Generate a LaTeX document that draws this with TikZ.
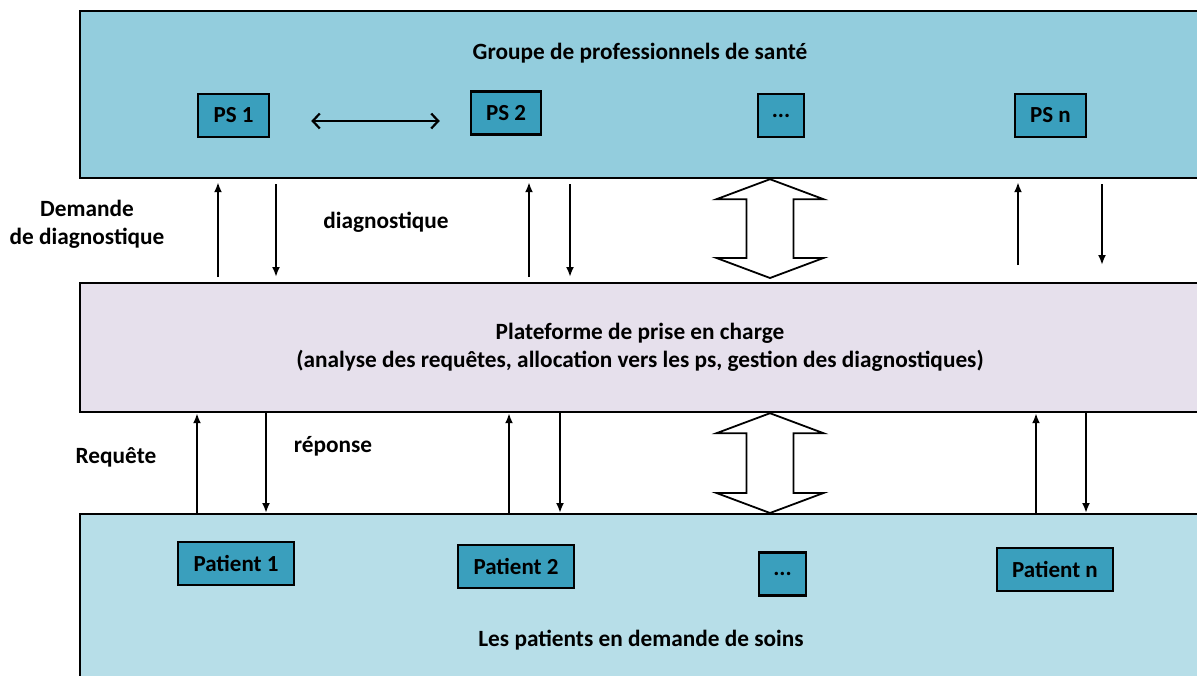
\documentclass[tikz,border=0pt]{standalone}
\usepackage{fontspec}
\setmainfont{Carlito}
\usetikzlibrary{arrows.meta,positioning}
\definecolor{bandtop}{HTML}{93CDDD}
\definecolor{bandmid}{HTML}{E6E0EC}
\definecolor{bandbot}{HTML}{B7DEE8}
\definecolor{unitfill}{HTML}{3A9FBD}
\tikzset{
  band/.style={draw,line width=2.2pt,anchor=north west,inner sep=0pt,minimum width=1150pt},
  unit/.style={draw,line width=2.5pt,fill=unitfill,minimum height=43pt,inner sep=0pt,font=\bfseries\fontsize{23}{27}\selectfont},
  lbl/.style={font=\bfseries\fontsize{23.3}{28}\selectfont,align=center,inner sep=0pt},
  flow/.style={-{Latex[length=10pt,width=8pt]},line width=2.2pt},
  swap/.style={{Straight Barb[length=7pt,width=15pt]}-{Straight Barb[length=7pt,width=15pt]},line width=2.2pt},
}
% hollow double arrow between two tips (#1 top, #2 bottom)
\newcommand{\bigarrow}[2]{%
  \draw[line width=1.8pt,fill=white,line join=miter] (#1) -- ([shift={(53.5,20)}]#1) -- ([shift={(23.5,20)}]#1)
    -- ([shift={(23.5,-20)}]#2) -- ([shift={(53.5,-20)}]#2) -- (#2) -- ([shift={(-53.5,-20)}]#2)
    -- ([shift={(-23.5,-20)}]#2) -- ([shift={(-23.5,20)}]#1) -- ([shift={(-53.5,20)}]#1) -- cycle;}
\begin{document}
\begin{tikzpicture}[x=1pt,y=-1pt]
\useasboundingbox (0,0) rectangle (1197,675);
\clip (0,0) rectangle (1197,675);
% the three bands
\node[band,fill=bandtop,minimum height=167pt] (grp) at (79,10) {};
\node[band,fill=bandmid,minimum height=129pt] (plat) at (79,282) {};
\node[band,fill=bandbot,minimum height=190pt] (pat) at (79,513) {};
\node[lbl] (grpT) at (640,53) {Groupe de professionnels de santé};
\node[lbl] (platT) at (640,347) {Plateforme de prise en charge\\(analyse des requêtes, allocation vers les ps, gestion des diagnostiques)};
\node[lbl] (patT) at (641,640) {Les patients en demande de soins};
% professionnels
\node[unit,minimum width=71pt] (ps1) at (233.5,115.5) {PS 1};
\node[unit,minimum width=70pt] (ps2) at (506,113) {PS 2};
\node[unit,minimum width=46pt] (psd) at (781,115.5) {...};
\node[unit,minimum width=71pt] (psn) at (1050.5,115.5) {PS n};
\draw[swap] ([shift={(41,5.5)}]ps1.east) -- ([shift={(-30,5.5)}]ps1.east -| ps2.west);
% patients
\node[unit,minimum width=116pt] (pat1) at (236,563.5) {Patient 1};
\node[unit,minimum width=116pt] (pat2) at (516,566.5) {Patient 2};
\node[unit,minimum width=47pt] (patd) at (782.5,574) {...};
\node[unit,minimum width=116pt] (patn) at (1055,569.5) {Patient n};
% flows
\foreach \u/\d/\s in {218/276/5,529/570/5,1018/1102/17}{
  \draw[flow,shorten <=\s pt,shorten >=3pt] (\u,0 |- plat.north) -- (\u,0 |- grp.south);
  \draw[flow,shorten <=5pt,shorten >=\s pt] (\d,0 |- grp.south) -- (\d,0 |- plat.north);
}
\foreach \u/\d in {197/266,509/560,1036/1086}{
  \draw[flow] (\u,0 |- pat.north) -- (\u,0 |- plat.south);
  \draw[flow] (\d,0 |- plat.south) -- (\d,0 |- pat.north);
}
\coordinate (t1) at (770,0 |- grp.south);
\coordinate (t2) at ([yshift=4pt]770,0 |- plat.north);
\coordinate (t3) at (770,0 |- plat.south);
\coordinate (t4) at (770,0 |- pat.north);
\bigarrow{t1}{t2}
\bigarrow{t3}{t4}
% labels
\node[lbl] (demT) at (87,224) {Demande\\de diagnostique};
\node[lbl] (diaT) at (386,222) {diagnostique};
\node[lbl] (reqT) at (116,457) {Requête};
\node[lbl] (repT) at (333,446) {réponse};
\end{tikzpicture}
\end{document}
